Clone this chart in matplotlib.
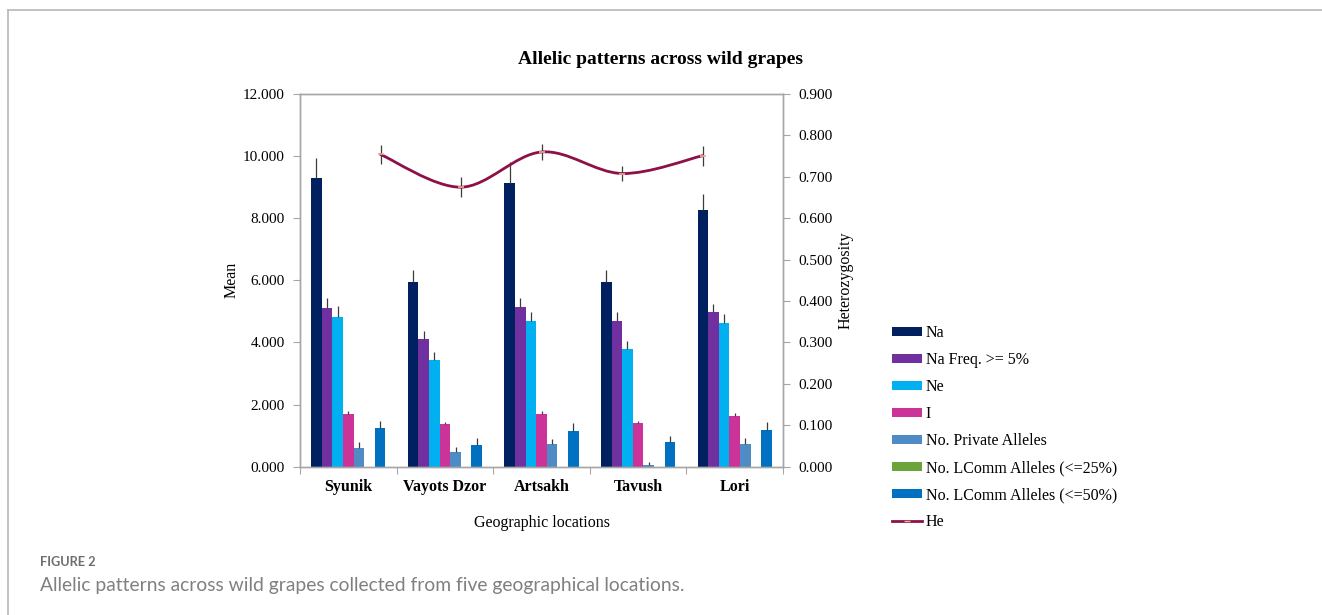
import numpy as np
import matplotlib
matplotlib.use("Agg")
import matplotlib.pyplot as plt
from matplotlib.path import Path
from matplotlib.patches import PathPatch, Patch
from matplotlib.lines import Line2D
from matplotlib.ticker import FormatStrFormatter, FixedLocator

# ---- data -------------------------------------------------------------
categories = ["Syunik", "Vayots Dzor", "Artsakh", "Tavush", "Lori"]

na = [9.30, 5.94, 9.14, 5.94, 8.25]
na_se = [0.65, 0.38, 0.66, 0.40, 0.54]
na_freq5 = [5.12, 4.11, 5.14, 4.70, 4.99]
na_freq5_se = [0.32, 0.26, 0.30, 0.27, 0.26]
ne = [4.82, 3.44, 4.68, 3.79, 4.63]
ne_se = [0.34, 0.24, 0.29, 0.26, 0.30]
shannon_i = [1.71, 1.38, 1.71, 1.40, 1.64]
shannon_i_se = [0.08, 0.07, 0.08, 0.06, 0.09]
private_alleles = [0.61, 0.48, 0.74, 0.05, 0.74]
private_alleles_se = [0.17, 0.15, 0.15, 0.09, 0.17]
lcomm25 = [0.0, 0.0, 0.0, 0.0, 0.0]
lcomm25_se = [0.0, 0.0, 0.0, 0.0, 0.0]
lcomm50 = [1.24, 0.70, 1.16, 0.78, 1.19]
lcomm50_se = [0.23, 0.21, 0.24, 0.20, 0.24]

he = [0.754, 0.675, 0.760, 0.708, 0.751]
he_se = [0.024, 0.024, 0.019, 0.018, 0.024]

series_labels = ["Na", "Na Freq. >= 5%", "Ne", "I", "No. Private Alleles",
                 "No. LComm Alleles (<=25%)", "No. LComm Alleles (<=50%)"]
left_ticks = [0, 2, 4, 6, 8, 10, 12]
right_ticks = [0.0, 0.1, 0.2, 0.3, 0.4, 0.5, 0.6, 0.7, 0.8, 0.9]

# ---- style ------------------------------------------------------------
colors = ["#002060", "#7030A0", "#00B0F0", "#CC3399", "#4F8BC4",
          "#6AA43A", "#0070C0"]
he_color = "#8E1048"
axis_gray = "#A6A6A6"
err_color = "#3C3C3C"
serif = ["Liberation Serif", "DejaVu Serif"]

plt.rcParams["font.family"] = serif

W, H = 1322, 615
fig = plt.figure(figsize=(W / 100, H / 100), dpi=100)
fig.patch.set_facecolor("white")

# page frame lines (top and left)
fig.add_artist(Line2D([8 / W, 1], [1 - 10 / H, 1 - 10 / H], transform=fig.transFigure,
                      color="#BDBDBD", lw=1.3))
fig.add_artist(Line2D([8 / W, 8 / W], [0, 1 - 10 / H], transform=fig.transFigure,
                      color="#BDBDBD", lw=1.3))

ax_l, ax_r, ax_t, ax_b = 300, 783, 94, 466.7
ax = fig.add_axes([ax_l / W, 1 - ax_b / H, (ax_r - ax_l) / W, (ax_b - ax_t) / H])
ax2 = ax.twinx()

n_cat = len(categories)
idx = np.arange(n_cat)
values = [na, na_freq5, ne, shannon_i, private_alleles, lcomm25, lcomm50]
errors = [na_se, na_freq5_se, ne_se, shannon_i_se, private_alleles_se, lcomm25_se, lcomm50_se]
n_ser = len(values)
bar_w = 0.11

for j, (vals, errs, col) in enumerate(zip(values, errors, colors)):
    x = idx + 0.5 + (j - (n_ser - 1) / 2) * bar_w
    ax.bar(x, vals, width=bar_w, color=col, linewidth=0, zorder=2)
    v = np.asarray(vals)
    e = np.asarray(errs)
    keep = e > 0
    if keep.any():
        ax.errorbar(x[keep], v[keep], yerr=[np.zeros(keep.sum()), e[keep]], fmt="none",
                    ecolor=err_color, elinewidth=0.9, capsize=0, zorder=3)

ax.set_xlim(0, n_cat)
ax.set_ylim(0, 12)
ax.yaxis.set_major_locator(FixedLocator(left_ticks))
ax.yaxis.set_major_formatter(FormatStrFormatter("%.3f"))
ax.set_xticks(np.arange(n_cat + 1))
ax.set_xticklabels([])
ax.set_xticks(idx + 0.5, minor=True)
ax.set_xticklabels(categories, minor=True, fontweight="bold", fontsize=11.5)
ax.tick_params(axis="x", which="minor", length=0, pad=9)
ax.tick_params(axis="x", which="major", length=5, color=axis_gray, direction="out")
ax.tick_params(axis="y", length=5, color=axis_gray, direction="out", labelsize=11, pad=6)
for sp in ax.spines.values():
    sp.set_color(axis_gray)
    sp.set_linewidth(1.0)

ax.set_ylabel("Mean", fontsize=11.5, labelpad=2)
ax.set_xlabel("Geographic locations", fontsize=11.5, labelpad=14)

# secondary axis: heterozygosity, smoothed line
ax2.set_ylim(0, 0.9)
ax2.yaxis.set_major_locator(FixedLocator(right_ticks))
ax2.yaxis.set_major_formatter(FormatStrFormatter("%.3f"))
ax2.tick_params(axis="y", length=5, color=axis_gray, direction="out", labelsize=11, pad=6)
for sp in ax2.spines.values():
    sp.set_color(axis_gray)
    sp.set_linewidth(1.0)
ax2.set_ylabel("Heterozygosity", fontsize=11.5, labelpad=4)

hx = np.arange(1, n_cat + 1) * n_cat / (n_cat + 1)
hy = np.asarray(he)
pts = np.column_stack([hx, hy])
verts = [pts[0]]
codes = [Path.MOVETO]
for k in range(len(pts) - 1):
    p0 = pts[max(k - 1, 0)]
    p1 = pts[k]
    p2 = pts[k + 1]
    p3 = pts[min(k + 2, len(pts) - 1)]
    c1 = p1 + (p2 - p0) / 6.0
    c2 = p2 - (p3 - p1) / 6.0
    verts += [c1, c2, p2]
    codes += [Path.CURVE4] * 3
ax2.add_patch(PathPatch(Path(verts, codes), facecolor="none", edgecolor=he_color,
                        lw=2.0, zorder=4, capstyle="round"))
ax2.errorbar(hx, hy, yerr=he_se, fmt="none", ecolor=err_color, elinewidth=0.9,
             capsize=0, zorder=5)
ax2.plot(hx, hy, linestyle="none", marker="_", markersize=5,
         markeredgecolor="#F2A99C", markeredgewidth=1.2, zorder=6)

# title
fig.text(661 / W, 1 - 59 / H, "Allelic patterns across wild grapes",
         ha="center", va="center", fontsize=14, fontweight="bold")

# legend
handles = [Patch(facecolor=c, edgecolor="none") for c in colors]
handles.append(Line2D([], [], color=he_color, lw=2.0, marker="_", markersize=4,
                      markeredgecolor="#F2A99C"))
labels = series_labels + ["He"]
fig.legend(handles, labels, loc="upper left", bbox_to_anchor=(892 / W, 1 - 325 / H),
           frameon=False, fontsize=11.5, handlelength=1.9, handleheight=0.45,
           handletextpad=0.2, labelspacing=0.69, borderpad=0, borderaxespad=0)

# caption
cap_font = ["Lato", "Open Sans", "DejaVu Sans"]
fig.text(40 / W, 1 - 562 / H, "FIGURE 2", ha="left", va="center", fontsize=9.2,
         color="#6E6E6E", family=cap_font, fontweight="bold")
fig.text(40 / W, 1 - 585 / H,
         "Allelic patterns across wild grapes collected from five geographical locations.",
         ha="left", va="center", fontsize=13.9, color="#808080", family=cap_font)

fig.savefig("out.png", dpi=100, facecolor="white")
